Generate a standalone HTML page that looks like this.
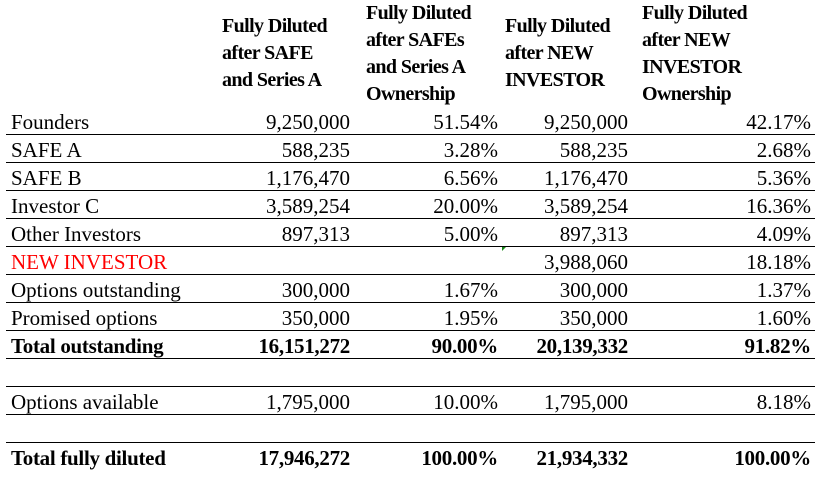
<!DOCTYPE html>
<html><head><meta charset="utf-8"><style>
body{margin:0;width:816px;height:489px;background:#fff;position:relative;overflow:hidden;font-family:"Liberation Serif",serif;color:#000}
.h{position:absolute;font-weight:bold;font-size:20px;line-height:27px;white-space:nowrap;letter-spacing:-0.6px}
.line{position:absolute;left:6px;width:809px;height:1px;background:#000}
.c{position:absolute;font-size:21px;line-height:28px;height:28px;white-space:nowrap}
.r{text-align:right}
.b{font-weight:bold;letter-spacing:-0.3px}
</style></head><body>
<div class="h" style="left:222px;top:13px">Fully Diluted<br>after SAFE<br>and Series A</div>
<div class="h" style="left:366px;top:0px">Fully Diluted<br>after SAFEs<br>and Series A<br>Ownership</div>
<div class="h" style="left:505px;top:13px">Fully Diluted<br>after NEW<br>INVESTOR</div>
<div class="h" style="left:642px;top:0px">Fully Diluted<br>after NEW<br>INVESTOR<br>Ownership</div>
<div style="position:absolute;left:502px;top:246px;width:0;height:0;border-top:5px solid #1a8a1a;border-right:5px solid transparent"></div>
<div id="t"></div>
<script>
const labels=["Founders","SAFE A","SAFE B","Investor C","Other Investors","NEW INVESTOR","Options outstanding","Promised options","Total outstanding","","Options available","","Total fully diluted"];
const col1=["9,250,000","588,235","1,176,470","3,589,254","897,313","","300,000","350,000","16,151,272","","1,795,000","","17,946,272"];
const col2=["51.54%","3.28%","6.56%","20.00%","5.00%","","1.67%","1.95%","90.00%","","10.00%","","100.00%"];
const col3=["9,250,000","588,235","1,176,470","3,589,254","897,313","3,988,060","300,000","350,000","20,139,332","","1,795,000","","21,934,332"];
const col4=["42.17%","2.68%","5.36%","16.36%","4.09%","18.18%","1.37%","1.60%","91.82%","","8.18%","","100.00%"];
const boldRows=[8,12];
const t=document.getElementById('t');
const rights=[350,498,628,811];
labels.forEach((lab,i)=>{
  const top=108+28*i;
  const bold=boldRows.includes(i);
  const mk=(txt,style,name,cls)=>{
    const d=document.createElement('div');
    d.className='c'+(cls||'')+(bold?' b':'');
    d.style.cssText=style+';top:'+top+'px';
    d.textContent=txt;
    
    
    t.appendChild(d);
  };
  mk(lab,'left:11px'+(i===5?';color:#f00':''),'row-label');
  [col1,col2,col3,col4].forEach((c,j)=>{
    mk(c[i],'right:'+(816-rights[j])+'px','cell-value',' r');
  });
  if(i<12){
    const l=document.createElement('div');
    l.className='line';
    l.style.top=(134+28*i)+'px';
    
    
    t.appendChild(l);
  }
});
</script>
</body></html>
